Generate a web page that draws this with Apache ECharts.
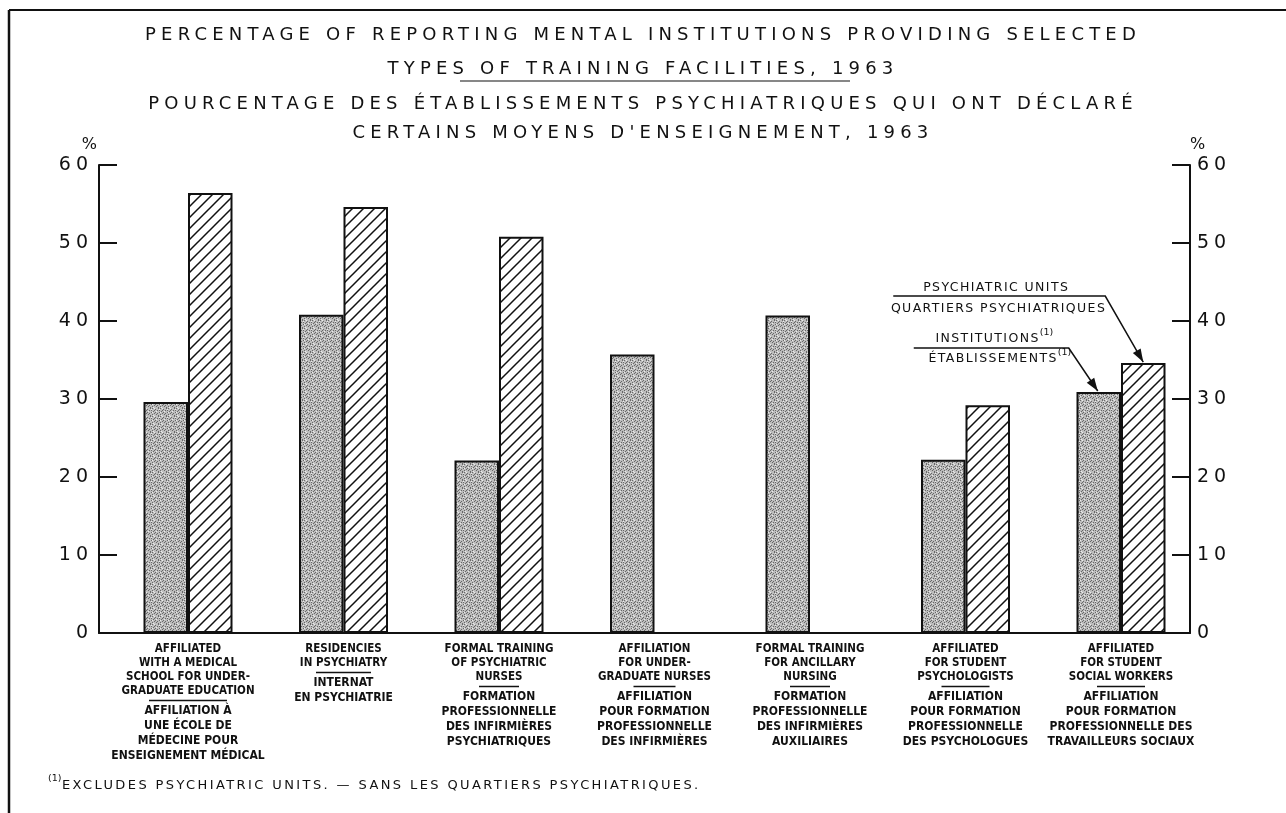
<!DOCTYPE html>
<html>
<head>
<meta charset="utf-8">
<script src="https://cdn.jsdelivr.net/npm/echarts@6/dist/echarts.min.js"></script>
<style>
html,body{margin:0;padding:0;background:#fff;}
#chart{width:1286px;height:813px;}
</style>
</head>
<body>
<div id="chart"></div>
<script>
// ---------- DATA ----------
const categoriesEn = [
  ['AFFILIATED', 'WITH A MEDICAL', 'SCHOOL FOR UNDER-', 'GRADUATE EDUCATION'],
  ['RESIDENCIES', 'IN PSYCHIATRY'],
  ['FORMAL TRAINING', 'OF PSYCHIATRIC', 'NURSES'],
  ['AFFILIATION', 'FOR UNDER-', 'GRADUATE NURSES'],
  ['FORMAL TRAINING', 'FOR ANCILLARY', 'NURSING'],
  ['AFFILIATED', 'FOR STUDENT', 'PSYCHOLOGISTS'],
  ['AFFILIATED', 'FOR STUDENT', 'SOCIAL WORKERS']
];
const categoriesFr = [
  ['AFFILIATION À', 'UNE ÉCOLE DE', 'MÉDECINE POUR', 'ENSEIGNEMENT MÉDICAL'],
  ['INTERNAT', 'EN PSYCHIATRIE'],
  ['FORMATION', 'PROFESSIONNELLE', 'DES INFIRMIÈRES', 'PSYCHIATRIQUES'],
  ['AFFILIATION', 'POUR FORMATION', 'PROFESSIONNELLE', 'DES INFIRMIÈRES'],
  ['FORMATION', 'PROFESSIONNELLE', 'DES INFIRMIÈRES', 'AUXILIAIRES'],
  ['AFFILIATION', 'POUR FORMATION', 'PROFESSIONNELLE', 'DES PSYCHOLOGUES'],
  ['AFFILIATION', 'POUR FORMATION', 'PROFESSIONNELLE DES', 'TRAVAILLEURS SOCIAUX']
];
const institutions = [29.6, 40.8, 22.1, 35.7, 40.7, 22.2, 30.9];
const psychiatricUnits = [56.4, 54.6, 50.8, null, null, 29.2, 34.6];
const yTicks = [0, 10, 20, 30, 40, 50, 60];
const titleLines = [
  'PERCENTAGE OF REPORTING MENTAL INSTITUTIONS PROVIDING SELECTED',
  'TYPES OF TRAINING FACILITIES, 1963',
  'POURCENTAGE DES ÉTABLISSEMENTS PSYCHIATRIQUES QUI ONT DÉCLARÉ',
  'CERTAINS MOYENS D\'ENSEIGNEMENT, 1963'
];
const seriesNames = ['INSTITUTIONS', 'PSYCHIATRIC UNITS'];
const annotUnits = ['PSYCHIATRIC UNITS', 'QUARTIERS PSYCHIATRIQUES'];
const annotInst = ['INSTITUTIONS', 'ÉTABLISSEMENTS'];
const footnote = 'EXCLUDES PSYCHIATRIC UNITS. — SANS LES QUARTIERS PSYCHIATRIQUES.';
const supMark = '(1)';

// ---------- letter-spaced lettering (canvas letterSpacing keyed by a font-family marker) ----------
(function () {
  const P = CanvasRenderingContext2D.prototype;
  const re = /ls(\d+(?:\.\d+)?)/;
  function wrap(name) {
    const orig = P[name];
    P[name] = function () {
      if ('letterSpacing' in this) {
        const m = re.exec(this.font || '');
        this.letterSpacing = m ? m[1] + 'px' : '0px';
      }
      return orig.apply(this, arguments);
    };
  }
  wrap('fillText'); wrap('strokeText'); wrap('measureText');
})();

// ---------- PATTERNS ----------
function stipple() {
  const c = document.createElement('canvas');
  c.width = 8; c.height = 8;
  const g = c.getContext('2d');
  g.fillStyle = '#bdbdbd';
  g.fillRect(0, 0, 8, 8);
  const dark = [[0,0],[3,1],[6,0],[1,3],[5,2],[7,4],[2,5],[4,6],[0,6],[6,7],[3,4],[5,5],[2,2],[7,2]];
  const light = [[2,0],[7,1],[4,3],[0,4],[1,7]];
  g.fillStyle = '#686868';
  dark.forEach(p => g.fillRect(p[0], p[1], 1, 1));
  g.fillStyle = '#ebebeb';
  light.forEach(p => g.fillRect(p[0], p[1], 1, 1));
  return c;
}
function hatch() {
  const n = 11;
  const c = document.createElement('canvas');
  c.width = n; c.height = n;
  const g = c.getContext('2d');
  g.fillStyle = '#ffffff';
  g.fillRect(0, 0, n, n);
  g.strokeStyle = '#111';
  g.lineWidth = 1.5;
  g.beginPath();
  g.moveTo(-1, n + 1); g.lineTo(n + 1, -1);
  g.moveTo(-2, 2); g.lineTo(2, -2);
  g.moveTo(n - 2, n + 2); g.lineTo(n + 2, n - 2);
  g.stroke();
  return c;
}

const chart = echarts.init(document.getElementById('chart'), null, {renderer: 'canvas'});
const titleFont = '"DejaVu Sans", "ls5.2"';
const axisFont = '"DejaVu Sans", "ls5"';
const labelFont = '"Liberation Sans Narrow", "DejaVu Sans Condensed", "Arial Narrow", sans-serif';

const GRID_TOP = 165, GRID_BOTTOM = 180;
const BAR_W = 44.5;
const sepWidths = [78, 55, 40, 42, 40, 48, 48];

function catLabel(value, idx) {
  const en = categoriesEn[idx].map(l => '{en|' + l + '}');
  const fr = categoriesFr[idx].map(l => '{fr|' + l + '}');
  return en.join('\n') + '\n{sep' + idx + '| }\n' + fr.join('\n');
}
const labelRich = {
  en: {fontFamily: labelFont, fontWeight: 'bold', fontSize: 11.5, lineHeight: 14, color: '#111'},
  fr: {fontFamily: labelFont, fontWeight: 'bold', fontSize: 12, lineHeight: 15, color: '#111'}
};
sepWidths.forEach((w, i) => {
  labelRich['sep' + i] = {width: w, height: 1.3, lineHeight: 5, fontSize: 2, backgroundColor: '#111', color: 'transparent'};
});

const yAxisCommon = {
  type: 'value', min: 0, max: 60, interval: 10,
  axisLine: {show: true, lineStyle: {color: '#111', width: 2}},
  axisTick: {show: true, inside: true, length: 18, lineStyle: {color: '#111', width: 2}},
  splitLine: {show: false},
  axisLabel: {color: '#111', fontFamily: axisFont, fontSize: 19},
  name: '%',
  nameLocation: 'end',
  nameGap: 0,
  gridIndex: 1
};

const option = {
  backgroundColor: '#ffffff',
  animation: false,
  title: titleLines.map((t, i) => ({
    text: t,
    left: 'center',
    top: [19, 53, 88, 117][i],
    textStyle: {fontFamily: titleFont, fontWeight: 'normal', fontSize: 18, color: '#111'}
  })),
  grid: [
    {left: 110.25, right: 87.25, top: GRID_TOP, bottom: GRID_BOTTOM},
    {left: 99, right: 96, top: GRID_TOP, bottom: GRID_BOTTOM}
  ],
  xAxis: [
    {
      type: 'category', gridIndex: 0,
      data: categoriesEn.map(l => l.join(' ')),
      axisLine: {show: false}, axisTick: {show: false},
      axisLabel: {interval: 0, margin: 9, formatter: catLabel, rich: labelRich}
    },
    {
      type: 'value', gridIndex: 1, min: 0, max: 1,
      axisLine: {show: true, onZero: false, lineStyle: {color: '#111', width: 2}},
      axisTick: {show: false}, axisLabel: {show: false}, splitLine: {show: false}
    }
  ],
  yAxis: [
    Object.assign({}, yAxisCommon, {
      position: 'left',
      axisLabel: Object.assign({}, yAxisCommon.axisLabel, {margin: 6}),
      nameTextStyle: {color: '#111', fontFamily: '"DejaVu Sans"', fontSize: 16, align: 'right', padding: [0, 2, 0, 0]}
    }),
    Object.assign({}, yAxisCommon, {
      position: 'right',
      axisLabel: Object.assign({}, yAxisCommon.axisLabel, {margin: 7}),
      nameTextStyle: {color: '#111', fontFamily: '"DejaVu Sans"', fontSize: 16, align: 'left'}
    }),
    {type: 'value', gridIndex: 0, min: 0, max: 60, interval: 10, show: false}
  ],
  series: [
    {
      name: seriesNames[0], type: 'bar', xAxisIndex: 0, yAxisIndex: 2,
      data: institutions, barWidth: BAR_W, barGap: '0%',
      itemStyle: {color: {image: stipple(), repeat: 'repeat'}, borderColor: '#111', borderWidth: 2}
    },
    {
      name: seriesNames[1], type: 'bar', xAxisIndex: 0, yAxisIndex: 2,
      data: psychiatricUnits, barWidth: BAR_W, barGap: '0%',
      itemStyle: {color: {image: hatch(), repeat: 'repeat'}, borderColor: '#111', borderWidth: 2}
    }
  ]
};
chart.setOption(option);

// ---------- ANNOTATIONS (anchored on the bars through the axes) ----------
function arrowHead(tip, from) {
  const dx = tip[0] - from[0], dy = tip[1] - from[1];
  const len = Math.sqrt(dx * dx + dy * dy);
  const ux = dx / len, uy = dy / len;
  const L = 13, W = 4.5;
  const bx = tip[0] - ux * L, by = tip[1] - uy * L;
  return {
    type: 'polygon',
    shape: {points: [tip, [bx - uy * W, by + ux * W], [bx + uy * W, by - ux * W]]},
    style: {fill: '#111'}
  };
}
const annFont = '12.5px "DejaVu Sans", "ls1.4"';
const supFont = '9.5px "DejaVu Sans"';
const last = categoriesEn.length - 1;
const cU = chart.convertToPixel({gridIndex: 0}, [last, psychiatricUnits[last]]);
const cI = chart.convertToPixel({gridIndex: 0}, [last, institutions[last]]);
const tipU = [cU[0] + BAR_W / 2, cU[1] - 1];
const tipI = [cI[0] - BAR_W / 2 - 1, cI[1] - 1];
const elU = [tipU[0] - 38, tipU[1] - 66];
const elI = [tipI[0] - 29, tipI[1] - 43];

const frameLeft = 9, frameTop = 10;

const graphics = [
  // frame
  {type: 'line', shape: {x1: frameLeft, y1: frameTop, x2: 1286, y2: frameTop}, style: {stroke: '#111', lineWidth: 2}},
  {type: 'line', shape: {x1: frameLeft, y1: frameTop, x2: frameLeft, y2: 813}, style: {stroke: '#111', lineWidth: 2.5}},
  // title underline
  {type: 'line', shape: {x1: 460, y1: 81, x2: 850, y2: 81}, style: {stroke: '#111', lineWidth: 1.2}},
  // psychiatric units callout
  {type: 'polyline', shape: {points: [[elU[0] - 212, elU[1]], elU, tipU]}, style: {stroke: '#111', lineWidth: 1.5, fill: null}},
  arrowHead(tipU, elU),
  {type: 'text', style: {text: annotUnits[0], x: elU[0] - 36, y: elU[1] - 8, font: annFont, fill: '#111', align: 'right', verticalAlign: 'middle'}},
  {type: 'text', style: {text: annotUnits[1], x: elU[0] + 1, y: elU[1] + 13, font: annFont, fill: '#111', align: 'right', verticalAlign: 'middle'}},
  // institutions callout
  {type: 'polyline', shape: {points: [[elI[0] - 155, elI[1]], elI, tipI]}, style: {stroke: '#111', lineWidth: 1.5, fill: null}},
  arrowHead(tipI, elI),
  {type: 'text', style: {text: annotInst[0], x: elI[0] - 29, y: elI[1] - 9, font: annFont, fill: '#111', align: 'right', verticalAlign: 'middle'}},
  {type: 'text', style: {text: supMark, x: elI[0] - 29, y: elI[1] - 15, font: supFont, fill: '#111', align: 'left', verticalAlign: 'middle'}},
  {type: 'text', style: {text: annotInst[1], x: elI[0] - 11, y: elI[1] + 11, font: annFont, fill: '#111', align: 'right', verticalAlign: 'middle'}},
  {type: 'text', style: {text: supMark, x: elI[0] - 11, y: elI[1] + 5, font: supFont, fill: '#111', align: 'left', verticalAlign: 'middle'}},
  // footnote
  {type: 'text', style: {text: supMark, x: 48, y: 779, font: supFont, fill: '#111', align: 'left', verticalAlign: 'middle'}},
  {type: 'text', style: {text: footnote, x: 62, y: 786, font: '13px "DejaVu Sans", "ls2.4"', fill: '#111', align: 'left', verticalAlign: 'middle'}}
];
chart.setOption({graphic: graphics});
</script>
</body>
</html>
